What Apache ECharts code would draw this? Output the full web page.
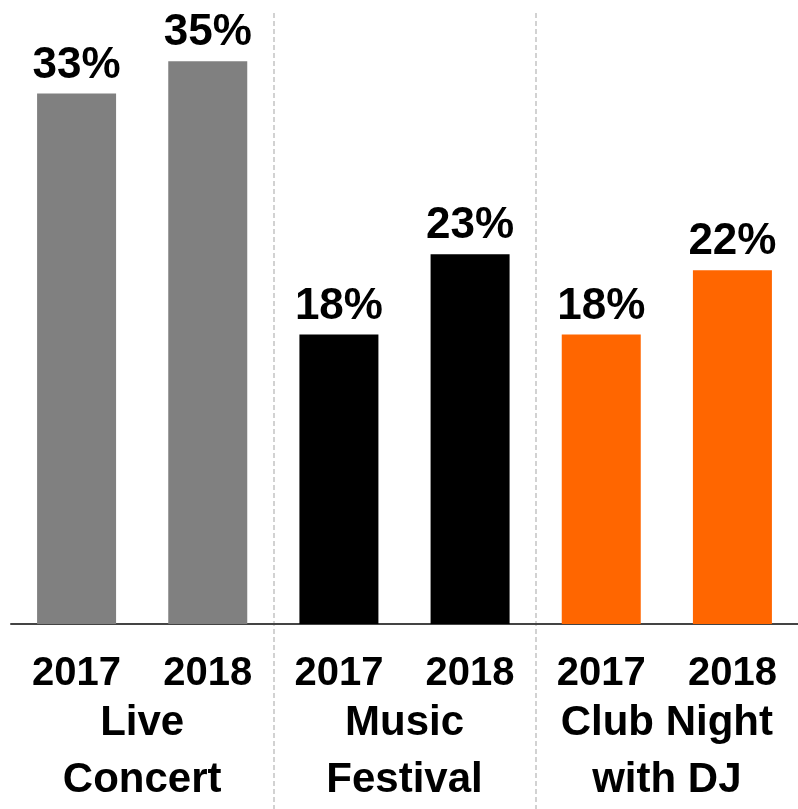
<!DOCTYPE html>
<html>
<head>
<meta charset="utf-8">
<title>Event attendance 2017 vs 2018</title>
<script src="https://cdn.jsdelivr.net/npm/echarts@6/dist/echarts.min.js"></script>
<style>
  html, body { margin: 0; padding: 0; background: #ffffff; overflow: hidden; }
  #chart { width: 798px; height: 809px; }
</style>
</head>
<body>
<div id="chart"></div>
<script>
// Event types, each shown for two survey years
const groups = ['Live\nConcert', 'Music\nFestival', 'Club Night\nwith DJ'];
const years = ['2017', '2018'];
// Share of respondents (%), per event type: [2017, 2018]
const liveConcert = [33, 35];
const musicFestival = [18, 23];
const clubNight = [18, 22];

// One colour per event type
const groupColors = ['#808080', '#000000', '#ff6600'];

const seriesByGroup = [liveConcert, musicFestival, clubNight];
const yearCategories = [];
const barData = [];
seriesByGroup.forEach((vals, g) => {
  vals.forEach((v, i) => {
    yearCategories.push(years[i]);
    barData.push({ value: v, itemStyle: { color: groupColors[g] } });
  });
});

const font = 'Liberation Sans, Arial, sans-serif';
const chart = echarts.init(document.getElementById('chart'), null, { renderer: 'canvas' });

chart.setOption({
  animation: false,
  backgroundColor: '#ffffff',
  grid: [
    { left: 11, width: 794, top: 13, height: 620, containLabel: false },
    { left: 11, width: 794, top: 13, height: 860, containLabel: false }
  ],
  xAxis: [
    {
      // year labels under each bar
      type: 'category',
      gridIndex: 0,
      data: yearCategories,
      axisLine: { show: true, lineStyle: { color: '#444444', width: 2 } },
      axisTick: { show: false },
      axisLabel: {
        interval: 0,
        margin: 30,
        color: '#000000',
        fontFamily: font,
        fontWeight: 'bold',
        fontSize: 40
      },
      splitLine: { show: false }
    },
    {
      // event type names under each pair of bars
      type: 'category',
      gridIndex: 0,
      position: 'bottom',
      data: groups,
      axisLine: { show: false },
      axisTick: { show: false },
      axisLabel: {
        interval: 0,
        margin: 71,
        color: '#000000',
        fontFamily: font,
        fontWeight: 'bold',
        fontSize: 42,
        lineHeight: 57
      },
      splitLine: { show: false }
    },
    {
      // dashed separators between event types, running full height
      type: 'category',
      gridIndex: 1,
      data: groups,
      axisLine: { show: false },
      axisTick: { show: false },
      axisLabel: { show: false },
      splitLine: {
        show: true,
        showMinLine: false,
        showMaxLine: false,
        lineStyle: { color: '#c4c4c4', width: 1.5, type: [5, 3] }
      }
    }
  ],
  yAxis: [
    { type: 'value', gridIndex: 0, min: 0, max: 38, show: false },
    { type: 'value', gridIndex: 1, min: 0, max: 1, show: false }
  ],
  series: [
    {
      type: 'bar',
      xAxisIndex: 0,
      yAxisIndex: 0,
      data: barData,
      barWidth: 79,
      label: {
        show: true,
        position: 'top',
        distance: 6,
        formatter: '{c}%',
        color: '#000000',
        fontFamily: font,
        fontWeight: 'bold',
        fontSize: 44
      }
    }
  ]
});
</script>
</body>
</html>
